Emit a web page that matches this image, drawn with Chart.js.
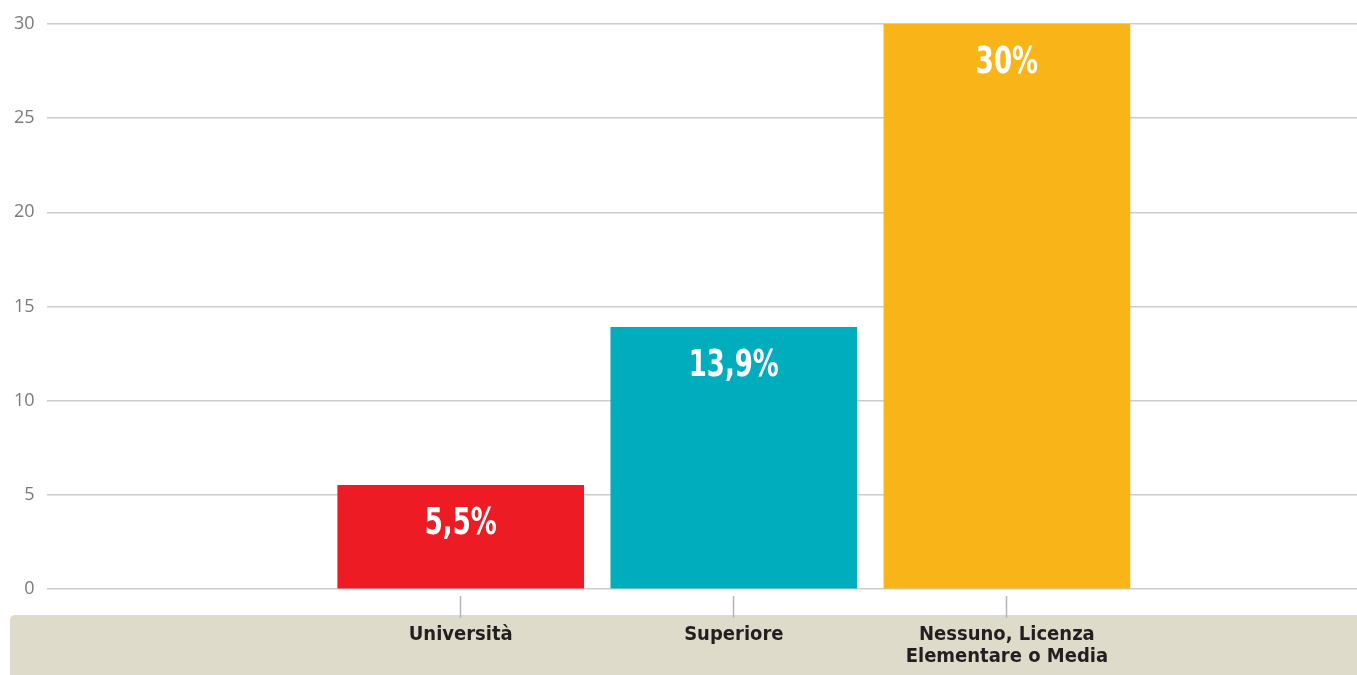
<!DOCTYPE html>
<html lang="it">
<head>
<meta charset="utf-8">
<title>Titolo di studio</title>
<script src="https://cdn.jsdelivr.net/npm/chart.js@4"></script>
<style>
  html, body { margin: 0; padding: 0; background: #fff; }
  #wrap { position: relative; width: 1357px; height: 675px; }
</style>
</head>
<body>
<div id="wrap"><canvas id="chart"></canvas></div>
<script>
const categories = ['Università', 'Superiore', ['Nessuno, Licenza', 'Elementare o Media']];
const values = [5.5, 13.9, 30];
const barColors = ['#ed1c24', '#00adbd', '#f9b518'];
const yMax = 30;
const yStep = 5;

const LABEL_FONT = '"Liberation Sans Narrow", "DejaVu Sans Condensed", Roboto, sans-serif';

// beige strip behind the category names
const bandPlugin = {
    id: 'band',
    beforeDraw(chart) {
        const { ctx, chartArea, width, height } = chart;
        const top = chartArea.bottom + 26;
        ctx.save();
        ctx.fillStyle = '#dfdbca';
        ctx.beginPath();
        ctx.roundRect(10, top, width - 10, height - top + 10, [5, 0, 0, 0]);
        ctx.fill();
        ctx.restore();
    }
};

// percentage written inside each bar, squeezed horizontally to look condensed
const valueLabels = {
    id: 'valueLabels',
    afterDatasetsDraw(chart) {
        const { ctx } = chart;
        const meta = chart.getDatasetMeta(0);
        ctx.save();
        ctx.fillStyle = '#ffffff';
        ctx.font = 'bold 37px ' + LABEL_FONT;
        ctx.textAlign = 'center';
        ctx.textBaseline = 'middle';
        meta.data.forEach((bar, i) => {
            const txt = values[i].toLocaleString('it-IT') + '%';
            ctx.save();
            ctx.translate(bar.x, bar.y + 39);
            ctx.scale(0.78, 1);
            ctx.fillText(txt, 0, 0);
            ctx.restore();
        });
        ctx.restore();
    }
};

new Chart(document.getElementById('chart'), {
    type: 'bar',
    data: {
        datasets: [{
            data: values.map((v, i) => ({ x: i + 1, y: v })),
            backgroundColor: barColors,
            borderWidth: 0,
            barThickness: 246
        }]
    },
    options: {
        responsive: true,
        maintainAspectRatio: false,
        animation: false,
        layout: { padding: { left: 2, top: 24, right: 0, bottom: 1 } },
        plugins: {
            legend: { display: false },
            tooltip: { enabled: false }
        },
        scales: {
            x: {
                type: 'linear',
                min: -0.5165,
                max: 4.282,
                offset: false,
                afterBuildTicks: (scale) => {
                    scale.ticks = categories.map((_, i) => ({ value: i + 1 }));
                },
                grid: {
                    offset: false,
                    drawOnChartArea: false,
                    drawTicks: true,
                    tickLength: 29,
                    tickWidth: 1.5,
                    tickColor: '#b5b5b5',
                    tickBorderDash: [0, 7, 22, 100]
                },
                border: { display: false },
                ticks: {
                    autoSkip: false,
                    maxRotation: 0,
                    padding: 6,
                    color: '#231f20',
                    font: { family: LABEL_FONT, size: 20, weight: 'bold', lineHeight: 1.1 },
                    callback: (v) => categories[v - 1] ?? ''
                }
            },
            y: {
                min: 0,
                max: yMax,
                grid: {
                    color: '#cccccc',
                    lineWidth: 1.5,
                    drawTicks: false
                },
                border: { display: false },
                ticks: {
                    stepSize: yStep,
                    padding: 12,
                    color: '#7a7a7a',
                    font: { family: '"Open Sans", sans-serif', size: 18 }
                }
            }
        }
    },
    plugins: [bandPlugin, valueLabels]
});
</script>
</body>
</html>
